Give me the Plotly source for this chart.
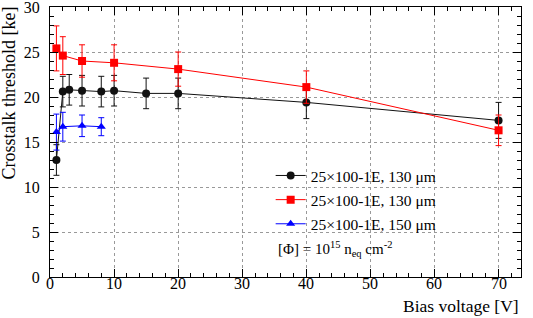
import plotly.graph_objects as go

# Data
x_black = [1, 2, 3, 5, 8, 10, 15, 20, 40, 70]
y_black = [13.0, 20.6, 20.8, 20.7, 20.6, 20.7, 20.4, 20.4, 19.4, 17.4]
e_black = [1.7, 1.7, 1.7, 1.7, 1.7, 1.7, 1.7, 1.7, 1.8, 2.0]

x_red = [1, 2, 5, 10, 20, 40, 70]
y_red = [25.4, 24.6, 24.0, 23.8, 23.1, 21.1, 16.3]
e_red = [2.5, 2.1, 1.8, 2.0, 1.9, 1.8, 1.7]

x_blue = [1, 2, 5, 8]
y_blue = [16.1, 16.7, 16.8, 16.7]
e_blue = [2.0, 1.6, 1.2, 1.0]

names = ["25×100-1E, 130 μm", "25×100-1E, 130 μm", "25×100-1E, 150 μm"]
x_tick_vals = [0, 10, 20, 30, 40, 50, 60, 70]

FONT = "Liberation Serif"

fig = go.Figure()

def add(x, y, e, color, symbol, name, grp):
    fig.add_trace(go.Scatter(
        x=x, y=y, mode="lines+markers", name=name, legendgroup=grp,
        line=dict(color=color, width=1),
        marker=dict(color=color, symbol=symbol, size=8),
        error_y=dict(type="data", array=e, color=color, thickness=1, width=3),
    ))

add(x_black, y_black, e_black, "#111111", "circle", names[0], "a")
add(x_red, y_red, e_red, "#ff0000", "square", names[1], "b")
add(x_blue, y_blue, e_blue, "#0000ff", "triangle-up", names[2], "c")

axis_common = dict(
    showline=True, linecolor="black", linewidth=1, mirror="allticks",
    ticks="inside", ticklen=8, tickcolor="black",
    showgrid=True, gridcolor="#999999", griddash="dot", gridwidth=1,
    zeroline=False, tickfont=dict(family=FONT, size=16, color="black"),
    automargin=False,
)

fig.update_xaxes(range=[0, 73.5], dtick=10, tick0=0, showticklabels=False,
                 minor=dict(dtick=2, ticklen=4, ticks="inside", tickcolor="black", showgrid=False),
                 **axis_common)
fig.update_yaxes(range=[0, 30], dtick=5, tick0=0, ticklabelstandoff=6,
                 ticklabeloverflow="allow",
                 minor=dict(dtick=1, ticklen=4, ticks="inside", tickcolor="black", showgrid=False),
                 **axis_common)

# x tick labels placed tight under the axis (ROOT style), positioned by the x scale
for v in x_tick_vals:
    fig.add_annotation(text=str(v), xref="x", yref="paper", x=v, y=0,
                       xanchor="center", yanchor="top", yshift=4, showarrow=False,
                       font=dict(family=FONT, size=16, color="black"))

fig.add_annotation(text="Crosstalk threshold [ke]", xref="paper", yref="paper",
                   x=-0.113, y=1.01, xanchor="left", yanchor="top", textangle=-90,
                   showarrow=False, font=dict(family=FONT, size=18, color="black"))
fig.add_annotation(text="Bias voltage [V]", xref="paper", yref="paper",
                   x=1.0, y=-0.063, xanchor="right", yanchor="top",
                   showarrow=False, font=dict(family=FONT, size=17.5, color="black"))
fig.add_annotation(text="[Φ] = 10<sup>15</sup> n<sub>eq</sub> cm<sup>-2</sup>", xref="paper", yref="paper",
                   x=0.48, y=0.102, xanchor="left", yanchor="middle",
                   showarrow=False, font=dict(family=FONT, size=15, color="black"))

fig.update_layout(
    width=533, height=318,
    margin=dict(l=50, r=12, t=7, b=41),
    paper_bgcolor="white", plot_bgcolor="white",
    legend=dict(x=0.4685, y=0.4374, xanchor="left", yanchor="top",
                font=dict(family=FONT, size=15.5, color="black"),
                bgcolor="rgba(0,0,0,0)", tracegroupgap=1, itemwidth=30,
                traceorder="grouped"),
    showlegend=True,
)

fig.write_html("out.html", config={"displayModeBar": False},
               post_script="document.body.style.margin='0';document.body.style.padding='0';")
